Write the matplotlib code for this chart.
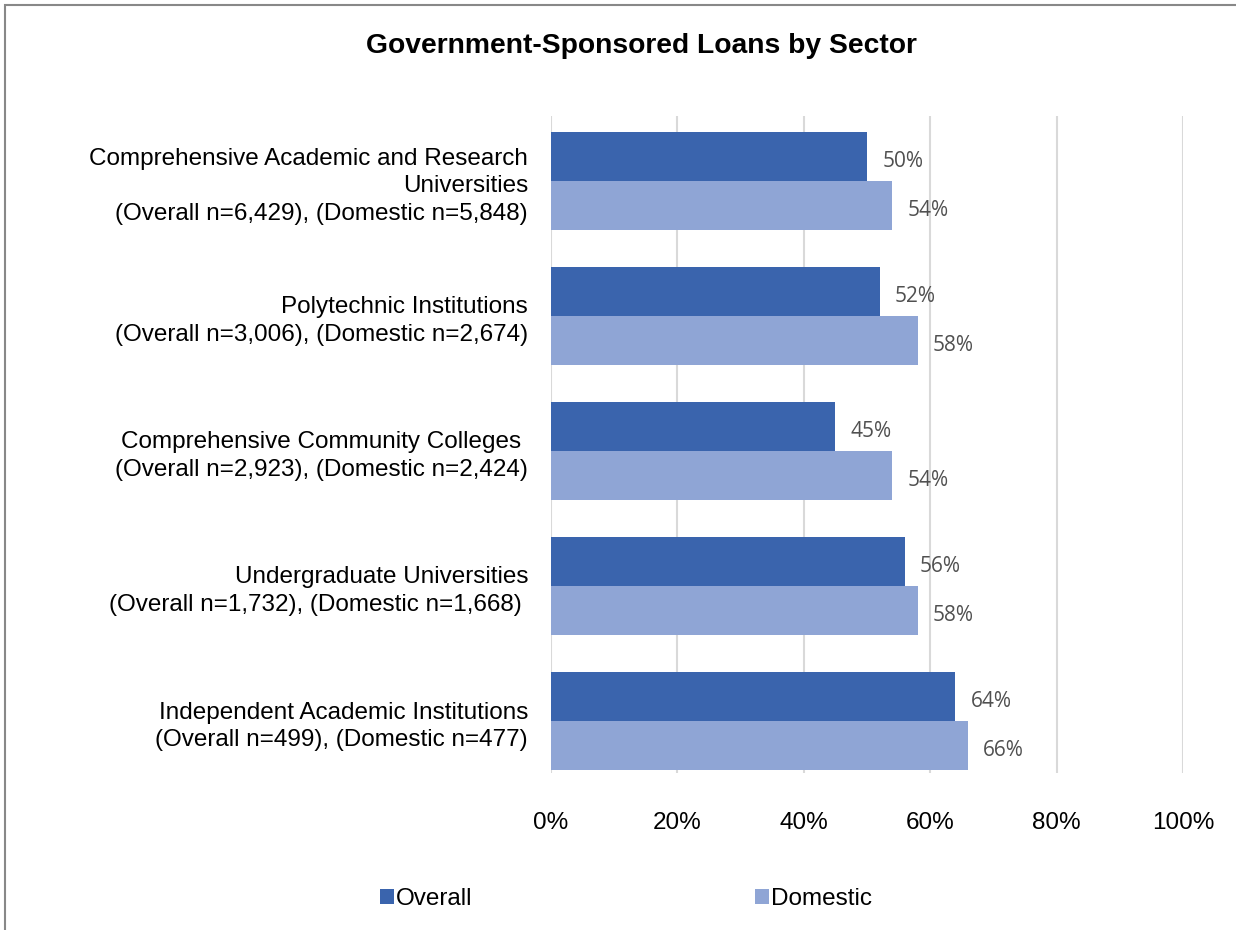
import numpy as np
import matplotlib.pyplot as plt
from matplotlib.patches import Rectangle
from matplotlib.ticker import PercentFormatter

# Share of students with government-sponsored loans, by sector
sectors = [
    "Comprehensive Academic and Research\nUniversities\n(Overall n=6,429), (Domestic n=5,848)",
    "Polytechnic Institutions\n(Overall n=3,006), (Domestic n=2,674)",
    "Comprehensive Community Colleges \n(Overall n=2,923), (Domestic n=2,424)",
    "Undergraduate Universities\n(Overall n=1,732), (Domestic n=1,668) ",
    "Independent Academic Institutions\n(Overall n=499), (Domestic n=477)",
]
overall = [50, 52, 45, 56, 64]
domestic = [54, 58, 54, 58, 66]
xticks = [0, 20, 40, 60, 80, 100]

c_overall = "#3A64AD"
c_domestic = "#8FA5D5"
fs = 17.5

plt.rcParams["font.family"] = ["Liberation Sans", "DejaVu Sans"]

fig = plt.figure(figsize=(12.36, 9.30), dpi=100)
W, H = 1236, 930
ax = fig.add_axes([551 / W, 1 - 773 / H, (1183 - 551) / W, (773 - 116) / H])

y = np.arange(len(sectors))
bh = 98 / 135 / 2
ax.barh(y - bh / 2, overall, height=bh, color=c_overall, label="Overall", zorder=3)
ax.barh(y + bh / 2, domestic, height=bh, color=c_domestic, label="Domestic", zorder=3)

lab_font = dict(fontsize=15, color="#505050", family=["Open Sans", "DejaVu Sans"],
                va="center", ha="left")
for i in range(len(sectors)):
    ax.text(overall[i] + 2.4, y[i] - bh / 2 + 0.035, f"{overall[i]}%", **lab_font)
    ax.text(domestic[i] + 2.4, y[i] + bh / 2 + 0.035, f"{domestic[i]}%", **lab_font)

ax.set_xlim(0, 100)
ax.set_ylim(4.385, -0.481)
ax.set_xticks(xticks)
ax.xaxis.set_major_formatter(PercentFormatter(decimals=0))
ax.set_yticks(y)
ax.set_yticklabels(sectors, fontsize=fs, linespacing=1.32)
ax.tick_params(axis="x", labelsize=fs, length=0, pad=28)
ax.tick_params(axis="y", length=0, pad=16.5)
ax.grid(axis="x", color="#D9D9D9", linewidth=1.5, zorder=0)
for s in ax.spines.values():
    s.set_visible(False)

fig.text(641 / W, 1 - 46 / H, "Government-Sponsored Loans by Sector", ha="center", va="center",
         fontsize=20.3, fontweight="bold")

fig.legend(loc="center", bbox_to_anchor=(626 / W, 1 - 899 / H), ncol=2, frameon=False,
           fontsize=fs, handlelength=0.6, handleheight=0.6, handletextpad=0.08,
           columnspacing=11.6)

# chart border
fig.patches.append(Rectangle((5 / W, -0.1), 1.2, 1 - 5 / H + 0.1, transform=fig.transFigure,
                             fill=False, edgecolor="#888888", linewidth=1.5))

fig.savefig("out.png", dpi=100)
